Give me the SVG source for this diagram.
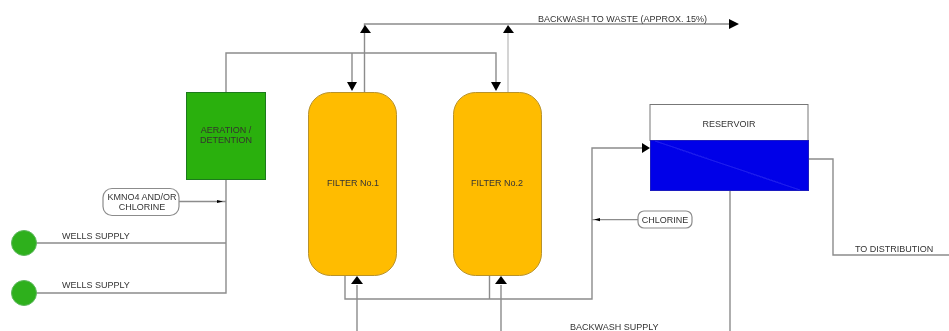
<svg xmlns="http://www.w3.org/2000/svg" width="949" height="331" viewBox="0 0 949 331">
<style>
.l{fill:none;stroke:#8c8c8c;stroke-width:1.4}
.t{font-family:"Liberation Sans",Arial,sans-serif;font-size:9px;fill:#333}
.m{text-anchor:middle}
.v{fill:#ffbc05;stroke:#b8922a;stroke-width:1}
.o{fill:#fff;stroke:#8c8c8c;stroke-width:1.2}
.c{fill:#2eb01c;stroke:#5cb85c;stroke-width:1}
.a{fill:#000}
</style>
<defs><filter id="b" x="-2%" y="-2%" width="104%" height="104%"><feGaussianBlur stdDeviation="0.6"/></filter></defs>
<g filter="url(#b)">
<rect width="949" height="331" fill="#fff"/>
<g id="connectors">
<path class="l" d="M226 92V53H496V82M352 53V82M364.500 92V24H730"/>
<path class="l" d="M508 92V30" style="stroke:#d4d4d4;stroke-width:2"/>
<path class="l" d="M36 243H226M36 293H226V179M179 201.500H226"/>
<path class="l" d="M345 275V299H592V148H642M489.500 275V299M357 331V285M501 331V285M692 219.600H592"/>
<path class="l" d="M730 190V331M808 159H833V255H949"/>
<path class="a" d="M360 33l5-8 6 8zM503 33l5-8 6 8zM729 19l10 5-10 5zM347 82h10l-5 9zM491 82h10l-5 9zM351 284l6-8 6 8zM495 284l6-8 6 8zM642 143l8 5-8 5zM217 200l6 1.500-6 1.500zM600 218l-6 1.600 6 1.600z"/>
</g>
<g id="aeration"><rect x="186.500" y="92.500" width="79" height="87" fill="#2bb007" stroke="#1f7a1f"/><text class="t m" x="226" y="133">AERATION /</text><text class="t m" x="226" y="143">DETENTION</text></g>
<g id="filter1"><rect class="v" x="308.500" y="92.500" width="88" height="183" rx="22" ry="22"/><text class="t m" x="353" y="186">FILTER No.1</text></g>
<g id="filter2"><rect class="v" x="453.500" y="92.500" width="88" height="183" rx="22" ry="22"/><text class="t m" x="497" y="186">FILTER No.2</text></g>
<g id="reservoir"><rect x="650" y="104.500" width="158" height="36" fill="#fff" stroke="#777"/><rect x="650.500" y="140.500" width="158" height="50" fill="#0505e8" stroke="#1a1ac0"/><path d="M655 141L800 190" stroke="#2020ee" fill="none"/><text class="t m" x="729" y="126.500">RESERVOIR</text></g>
<g id="kmno4"><rect class="o" x="103" y="188.500" width="76" height="27" rx="9"/><text class="t m" x="142" y="200">KMNO4 AND/OR</text><text class="t m" x="142" y="210">CHLORINE</text></g>
<g id="chlorine"><rect class="o" x="638" y="211" width="54" height="17" rx="6"/><text class="t m" x="665" y="223">CHLORINE</text></g>
<g id="well1"><circle class="c" cx="24" cy="243" r="12.500"/></g>
<g id="well2"><circle class="c" cx="24" cy="293" r="12.500"/></g>
<g id="labels">
<text class="t" x="62" y="239">WELLS SUPPLY</text>
<text class="t" x="62" y="288">WELLS SUPPLY</text>
<text class="t" x="538" y="22">BACKWASH TO WASTE (APPROX. 15%)</text>
<text class="t" x="570" y="330">BACKWASH SUPPLY</text>
<text class="t" x="855" y="252">TO DISTRIBUTION</text>
</g>
</g>
</svg>
